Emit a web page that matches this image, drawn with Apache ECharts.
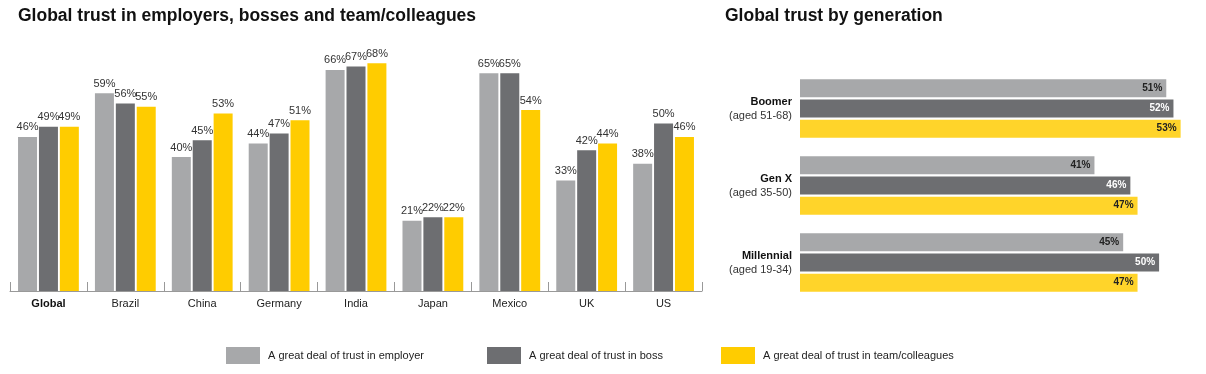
<!DOCTYPE html>
<html><head><meta charset="utf-8">
<script src="https://cdn.jsdelivr.net/npm/echarts@6/dist/echarts.min.js"></script>
<style>html,body{margin:0;padding:0;background:#fff}#c{width:1206px;height:374px}</style>
</head><body><div id="c"></div>
<script>
const countries = ['Global','Brazil','China','Germany','India','Japan','Mexico','UK','US'];
const employer = [46,59,40,44,66,21,65,33,38];
const boss = [49,56,45,47,67,22,65,42,50];
const team = [49,55,53,51,68,22,54,44,46];

const generations = ['Boomer','Gen X','Millennial'];
const genAges = ['(aged 51-68)','(aged 35-50)','(aged 19-34)'];
const genEmployer = [51,41,45];
const genBoss = [52,46,50];
const genTeam = [53,47,47];

const seriesNames = ['A great deal of trust in employer','A great deal of trust in boss','A great deal of trust in team/colleagues'];
const C_EMP = '#A7A8AA', C_BOSS = '#6D6E71', C_TEAM = '#FFCC00', C_TEAM2 = '#FFD42A';
const FONT = '"Liberation Sans", Arial, sans-serif';

const chart = echarts.init(document.getElementById('c'), null, {renderer:'canvas'});

const leftLabel = {show:true, position:'top', distance:4, color:'#333', fontSize:11, fontFamily:FONT, formatter:'{c}%'};
function rightLabel(color){
  return {show:true, position:'insideRight', distance:4, color:color, fontSize:10, fontWeight:'bold', fontFamily:FONT, formatter:'{c}%'};
}
const legendBase = {itemWidth:34, itemHeight:17, top:347, padding:0, itemGap:0, textStyle:{fontSize:11, color:'#222', fontFamily:FONT, padding:[0,0,0,3]}, icon:'rect', selectedMode:false};

chart.setOption({
  animation:false,
  textStyle:{fontFamily:FONT},
  title:[
    {text:'Global trust in employers, bosses and team/colleagues', left:18, top:7, padding:0, textStyle:{fontSize:17.5, fontWeight:'bold', color:'#111', fontFamily:FONT}},
    {text:'Global trust by generation', left:725, top:7, padding:0, textStyle:{fontSize:17.5, fontWeight:'bold', color:'#111', fontFamily:FONT}}
  ],
  legend:[
    Object.assign({left:226, data:[seriesNames[0]]}, legendBase),
    Object.assign({left:487, data:[seriesNames[1]]}, legendBase),
    Object.assign({left:721, data:[seriesNames[2]]}, legendBase)
  ],
  grid:[
    {left:10, width:692, top:23, bottom:83},
    {left:800, width:395, top:70, height:231}
  ],
  xAxis:[
    {type:'category', gridIndex:0, data:countries,
     axisLine:{lineStyle:{color:'#999'}},
     axisTick:{show:true, inside:true, length:9, lineStyle:{color:'#999'}},
     axisLabel:{margin:7, fontSize:11, color:'#222', fontFamily:FONT,
       formatter:function(v){return v==='Global' ? '{b|'+v+'}' : v;},
       rich:{b:{fontWeight:'bold', fontSize:11, color:'#111', fontFamily:FONT}}}},
    {type:'value', gridIndex:1, min:0, max:55, show:false}
  ],
  yAxis:[
    {type:'value', gridIndex:0, min:0, max:80, show:false},
    {type:'category', gridIndex:1, data:generations, inverse:true,
     axisLine:{show:false}, axisTick:{show:false},
     axisLabel:{margin:8, align:'right', fontFamily:FONT,
       formatter:function(v, i){return '{b|'+v+'}\n{n|'+genAges[i]+'}';},
       rich:{b:{fontWeight:'bold', fontSize:11, color:'#111', lineHeight:14, align:'right', fontFamily:FONT},
             n:{fontSize:11, color:'#333', lineHeight:14, align:'right', fontFamily:FONT}}}}
  ],
  series:[
    {name:seriesNames[0], type:'bar', xAxisIndex:0, yAxisIndex:0, data:employer, barWidth:19, barGap:'10%', itemStyle:{color:C_EMP}, label:leftLabel},
    {name:seriesNames[1], type:'bar', xAxisIndex:0, yAxisIndex:0, data:boss, barWidth:19, barGap:'10%', itemStyle:{color:C_BOSS}, label:leftLabel},
    {name:seriesNames[2], type:'bar', xAxisIndex:0, yAxisIndex:0, data:team, barWidth:19, barGap:'10%', itemStyle:{color:C_TEAM}, label:leftLabel},
    {name:seriesNames[0], type:'bar', xAxisIndex:1, yAxisIndex:1, data:genEmployer, barWidth:18, barGap:'12%', itemStyle:{color:C_EMP}, label:rightLabel('#222')},
    {name:seriesNames[1], type:'bar', xAxisIndex:1, yAxisIndex:1, data:genBoss, barWidth:18, barGap:'12%', itemStyle:{color:C_BOSS}, label:rightLabel('#fff')},
    {name:seriesNames[2], type:'bar', xAxisIndex:1, yAxisIndex:1, data:genTeam, barWidth:18, barGap:'12%', itemStyle:{color:C_TEAM2}, label:rightLabel('#222')}
  ]
});
</script></body></html>
